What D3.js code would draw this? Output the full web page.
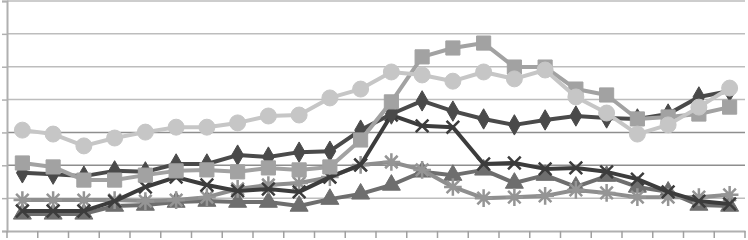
<!DOCTYPE html>
<html><head><meta charset="utf-8">
<script src="https://cdn.jsdelivr.net/npm/d3@7"></script>
<style>body{margin:0;background:#fff}svg{display:block}</style>
</head><body>
<script>
const categories = d3.range(1, 25).map(String);
const yTicks = [0, 100, 200, 300, 400, 500, 600, 700];
const circles   = [307,295,259,283,301,316,316,329,350,353,405,432,484,475,456,484,463,490,408,359,295,323,377,435];
const squares   = [207,195,155,155,170,183,186,180,192,186,195,277,393,530,557,572,499,499,432,414,341,347,356,377];
const diamonds  = [177,173,167,183,180,204,204,231,225,240,243,307,356,396,365,341,323,338,350,344,341,356,408,426];
const crosses   = [61,61,61,91,134,164,140,122,128,119,164,201,353,320,316,204,207,189,192,180,158,119,91,82];
const asterisks = [94,94,94,94,91,94,103,128,140,146,164,201,210,186,134,100,103,107,125,116,103,103,103,110];
const triangles = [52,52,52,76,79,88,91,88,88,76,97,113,140,180,170,186,146,170,134,167,134,119,79,76];

const W = 748, H = 240;
const svg = d3.select("body").append("svg").attr("width", W).attr("height", H);
const x = d3.scaleBand().domain(categories).range([7, 745]);
const y = d3.scaleLinear().domain([0, 700]).range([231, 1]);

const gridCol = v => (v === 200 || v === 300) ? "#8e8e8e" : "#bdbdbd";
svg.append("g").selectAll("line").data(yTicks.filter(v => v > 0)).join("line")
  .attr("x1", 7).attr("x2", 745).attr("y1", d => y(d)).attr("y2", d => y(d))
  .attr("stroke", gridCol).attr("stroke-width", 1.5);

const ya = svg.append("g").attr("transform", "translate(7,0)")
  .call(d3.axisLeft(y).tickValues(yTicks).tickSize(5).tickFormat(""));
ya.selectAll("path,line").attr("stroke", "#b0b0b0").attr("stroke-width", 1.5);
ya.select("path").attr("stroke-width", 2);

const xa = svg.append("g").attr("transform", "translate(0,231)")
  .call(d3.axisBottom(x).tickSize(0).tickFormat(""));
xa.select("path").attr("stroke", "#b0b0b0").attr("stroke-width", 2);
const bounds = categories.map(c => x(c)).concat([x(categories[categories.length-1]) + x.bandwidth()]);
svg.append("g").selectAll("line").data(bounds).join("line")
  .attr("x1", d => d).attr("x2", d => d).attr("y1", 231).attr("y2", 238)
  .attr("stroke", "#a0a0a0").attr("stroke-width", 1.5);

const cx = (d, i) => x(categories[i]) + x.bandwidth() / 2;
const line = d3.line().x(cx).y(d => y(d));

const symbolAsterisk = {
  draw(ctx, size) {
    const r = Math.sqrt(size) / 1.6;
    for (let k = 0; k < 4; k++) {
      const a = k * Math.PI / 4;
      ctx.moveTo(-r * Math.cos(a), -r * Math.sin(a));
      ctx.lineTo(r * Math.cos(a), r * Math.sin(a));
    }
  }
};
const symbolCross = {
  draw(ctx, size) {
    const r = Math.sqrt(size) / 2;
    ctx.moveTo(-r, -r); ctx.lineTo(r, r);
    ctx.moveTo(r, -r); ctx.lineTo(-r, r);
  }
};

function series(data, color, sym, size, lw, markColor, open) {
  const g = svg.append("g");
  g.append("path").datum(data).attr("d", line).attr("fill", "none")
    .attr("stroke", color).attr("stroke-width", lw).attr("stroke-linejoin", "round");
  const s = d3.symbol().type(sym).size(size);
  g.selectAll("path.m").data(data).join("path").attr("class", "m")
    .attr("transform", (d, i) => `translate(${cx(d, i)},${y(d)})`)
    .attr("d", s())
    .attr("fill", open ? "none" : (markColor || color))
    .attr("stroke", markColor || color)
    .attr("stroke-width", open ? 2.5 : 1);
}

series(triangles, "#6e6e6e", d3.symbolTriangle, 140, 4);
series(asterisks, "#8e8e8e", symbolAsterisk, 200, 4, "#959595", true);
series(crosses, "#3c3c3c", symbolCross, 160, 4, null, true);
series(diamonds, "#4a4a4a", d3.symbolDiamond, 120, 4);
series(squares, "#a2a2a2", d3.symbolSquare, 200, 4);
series(circles, "#c6c6c6", d3.symbolCircle, 200, 4);
</script>
</body></html>
